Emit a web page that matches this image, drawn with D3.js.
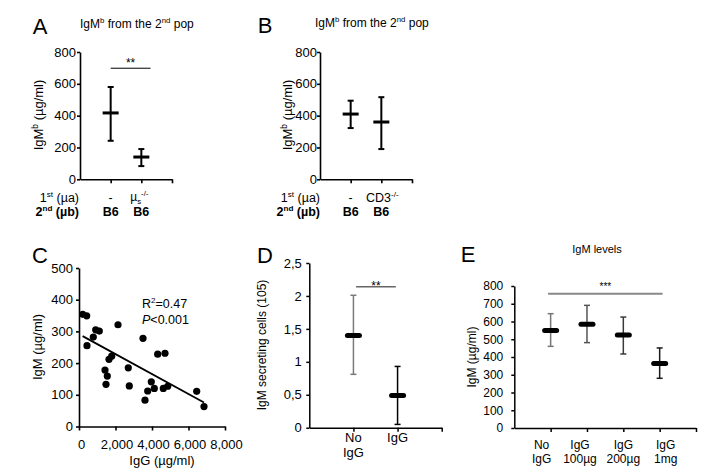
<!DOCTYPE html>
<html><head><meta charset="utf-8">
<script src="https://cdn.jsdelivr.net/npm/d3@7"></script>
<style>
body{margin:0;background:#fff}
svg text{font-family:"Liberation Sans",Arial,Helvetica,sans-serif;fill:#000}
</style>
</head><body>
<svg id="chart" width="711" height="472"></svg>
<script>
// ---------------- DATA ----------------
// Panel A
const aFirst = ["-", "µs-/-"];
const aSecond = ["B6", "B6"];
const aMean = [417, 140];
const aLow = [242, 83];
const aHigh = [580, 190];
const aSig = {from: 1, to: 2.3, y: 698, label: "**"};
// Panel B
const bFirst = ["-", "CD3-/-"];
const bSecond = ["B6", "B6"];
const bMean = [410, 360];
const bLow = [322, 190];
const bHigh = [494, 516];
const abTicks = [0, 200, 400, 600, 800];
// Panel C
const cIgG = [203, 422, 784, 438, 915, 1112, 2137, 1792, 1644, 1425, 1551, 1479, 2701, 2756, 3507, 4312, 4712, 3962, 3764, 3616, 4126, 4619, 4860, 6449, 6849];
const cIgM = [354, 349, 282, 255, 305, 301, 321, 222, 212, 178, 159, 133, 185, 128, 278, 228, 231, 141, 112, 83, 120, 120, 127, 111, 63];
const cFitIntercept = 291.4;
const cFitSlope = -0.0315;
const cFitRange = [200, 6850];
const cTicksX = [0, 2000, 4000, 6000, 8000];
const cTicksY = [0, 100, 200, 300, 400, 500];
// Panel D
const dCats = [["No", "IgG"], ["IgG"]];
const dMean = [1.40, 0.49];
const dLow = [0.81, 0.05];
const dHigh = [2.01, 0.93];
const dTicks = [0, 0.5, 1, 1.5, 2, 2.5];
const dSig = {from: 1.06, to: 1.96, y: 2.14, label: "**"};
// Panel E
const eCats = [["No", "IgG"], ["IgG", "100µg"], ["IgG", "200µg"], ["IgG", "1mg"]];
const eMean = [550, 584, 524, 364];
const eLow = [460, 481, 417, 280];
const eHigh = [644, 691, 625, 451];
const eTicks = [0, 100, 200, 300, 400, 500, 600, 700, 800];
const eSig = {from: 0.93, to: 4.08, y: 757, label: "***"};

// ---------------- DRAW ----------------
const svg = d3.select("#chart");

function rich(g, x, y, parts, fs, opts = {}) {
  const t = g.append("text").attr("x", x).attr("y", y).attr("font-size", fs)
    .attr("text-anchor", opts.anchor || "start");
  if (opts.weight) t.attr("font-weight", opts.weight);
  if (opts.transform) t.attr("transform", opts.transform);
  let cur = 0;
  parts.forEach(p => {
    let target = 0, size = fs;
    if (p.sup) { target = -fs * 0.38; size = fs * 0.65; }
    if (p.sub) { target = fs * 0.22; size = fs * 0.65; }
    const ts = t.append("tspan").text(p.t).attr("font-size", size).attr("dy", target - cur);
    if (p.italic) ts.attr("font-style", "italic");
    cur = target;
  });
  return t;
}

function styleAxis(ax, fs, width) {
  ax.selectAll("path.domain").attr("stroke", "#000").attr("stroke-width", width);
  ax.selectAll(".tick line").attr("stroke", "#000").attr("stroke-width", width);
  ax.selectAll(".tick text").attr("font-size", fs).attr("font-family", null).attr("fill", "#000");
}

function catPanel(cfg) {
  const g = svg.append("g");
  const n = cfg.mean.length;
  const xs = d3.scaleLinear().domain([0, n + 1]).range([cfg.x0, cfg.x1]);
  const ys = d3.scaleLinear().domain([0, cfg.ticks[cfg.ticks.length - 1]]).range([cfg.yb, cfg.yt]);
  const ya = g.append("g").attr("transform", `translate(${cfg.x0},0)`)
    .call(d3.axisLeft(ys).tickValues(cfg.ticks).tickSize(cfg.tick).tickSizeOuter(0)
      .tickPadding(cfg.pad).tickFormat(cfg.fmt || (d => d)));
  styleAxis(ya, cfg.fs, cfg.axW);
  const xa = g.append("g").attr("transform", `translate(0,${cfg.yb})`)
    .call(d3.axisBottom(xs).tickValues(d3.range(1, n + 2)).tickSize(4).tickSizeOuter(0).tickFormat(""));
  styleAxis(xa, cfg.fs, cfg.axW);
  for (let i = 0; i < n; i++) {
    const cx = xs(i + 1);
    const col = cfg.colors ? cfg.colors[i] : "#000";
    g.append("line").attr("x1", cx).attr("x2", cx).attr("y1", ys(cfg.low[i])).attr("y2", ys(cfg.high[i]))
      .attr("stroke", col).attr("stroke-width", cfg.errW);
    [cfg.low[i], cfg.high[i]].forEach(v => {
      g.append("line").attr("x1", cx - cfg.capW / 2).attr("x2", cx + cfg.capW / 2)
        .attr("y1", ys(v)).attr("y2", ys(v)).attr("stroke", col).attr("stroke-width", cfg.errW);
    });
    const inset = cfg.cap === "round" ? cfg.meanT / 2 : 0;
    g.append("line").attr("x1", cx - cfg.meanW / 2 + inset).attr("x2", cx + cfg.meanW / 2 - inset)
      .attr("y1", ys(cfg.mean[i])).attr("y2", ys(cfg.mean[i]))
      .attr("stroke", "#000").attr("stroke-width", cfg.meanT).attr("stroke-linecap", cfg.cap || "butt");
  }
  if (cfg.sig) {
    const s = cfg.sig;
    g.append("line").attr("x1", xs(s.from)).attr("x2", xs(s.to)).attr("y1", ys(s.y)).attr("y2", ys(s.y))
      .attr("stroke", cfg.sigColor || "#000").attr("stroke-width", cfg.sigW || 1);
    g.append("text").attr("x", (xs(s.from) + xs(s.to)) / 2).attr("y", ys(s.y) + cfg.sigDy)
      .attr("text-anchor", "middle").attr("font-size", cfg.sigFs).text(s.label);
  }
  return {g, xs, ys};
}

// Panel letters
[["A", 40, 26], ["B", 265, 25], ["C", 40, 255], ["D", 265, 255], ["E", 468, 254]].forEach(([t, x, y]) => {
  svg.append("text").attr("x", x).attr("y", y + 8).attr("text-anchor", "middle").attr("font-size", 22).text(t);
});

// ---- Panel A ----
const A = catPanel({x0: 80, x1: 172, yb: 179.3, yt: 52, ticks: abTicks, tick: 3, pad: 1, fs: 13, axW: 1.6,
  mean: aMean, low: aLow, high: aHigh, errW: 2, capW: 6, meanW: 16, meanT: 3,
  sig: aSig, sigDy: -1, sigFs: 12});
rich(svg, 80, 28, [{t: "IgM"}, {t: "b", sup: 1}, {t: " from the 2"}, {t: "nd", sup: 1}, {t: " pop"}], 12);
rich(svg, 39, 115, [{t: "IgM"}, {t: "b", sup: 1}, {t: " (µg/ml)"}], 13,
  {anchor: "middle", transform: "rotate(-90,39,115) translate(0,4)"});
rich(svg, 79, 202, [{t: "1"}, {t: "st", sup: 1}, {t: " (µa)"}], 12.5, {anchor: "end"});
rich(svg, 79, 216, [{t: "2"}, {t: "nd", sup: 1}, {t: " (µb)"}], 12.5, {anchor: "end", weight: "bold"});
aFirst.forEach((t, i) => {
  const x = A.xs(i + 1);
  if (t === "-") svg.append("text").attr("x", x).attr("y", 202).attr("text-anchor", "middle").attr("font-size", 12.5).text(t);
  else rich(svg, x - 2, 201, [{t: "µ"}, {t: "s", sub: 1}, {t: "-/-", sup: 1}], 12, {anchor: "middle"}).attr("fill", "#333");
});
aSecond.forEach((t, i) => svg.append("text").attr("x", A.xs(i + 1)).attr("y", 216).attr("text-anchor", "middle")
  .attr("font-size", 12.5).attr("font-weight", "bold").text(t));

// ---- Panel B ----
const B = catPanel({x0: 320, x1: 412, yb: 179.3, yt: 52, ticks: abTicks, tick: 3, pad: 0, fs: 13, axW: 1.6,
  mean: bMean, low: bLow, high: bHigh, errW: 2, capW: 6, meanW: 16, meanT: 3});
rich(svg, 315, 27, [{t: "IgM"}, {t: "b", sup: 1}, {t: " from the 2"}, {t: "nd", sup: 1}, {t: " pop"}], 12);
rich(svg, 288, 115, [{t: "IgM"}, {t: "b", sup: 1}, {t: " (µg/ml)"}], 13,
  {anchor: "middle", transform: "rotate(-90,288,115) translate(0,4)"});
rich(svg, 320, 202, [{t: "1"}, {t: "st", sup: 1}, {t: " (µa)"}], 12.5, {anchor: "end"});
rich(svg, 320, 216, [{t: "2"}, {t: "nd", sup: 1}, {t: " (µb)"}], 12.5, {anchor: "end", weight: "bold"});
bFirst.forEach((t, i) => {
  const x = B.xs(i + 1);
  if (t === "-") svg.append("text").attr("x", x).attr("y", 202).attr("text-anchor", "middle").attr("font-size", 12.5).text(t);
  else rich(svg, x + 1, 202, [{t: "CD3"}, {t: "-/-", sup: 1}], 12.5, {anchor: "middle"});
});
bSecond.forEach((t, i) => svg.append("text").attr("x", B.xs(i + 1)).attr("y", 216).attr("text-anchor", "middle")
  .attr("font-size", 12.5).attr("font-weight", "bold").text(t));

// ---- Panel C ----
{
  const g = svg.append("g");
  const xs = d3.scaleLinear().domain([0, 8000]).range([79, 225]);
  const ys = d3.scaleLinear().domain([0, 500]).range([426.5, 268]);
  const ya = g.append("g").attr("transform", "translate(79,0)")
    .call(d3.axisLeft(ys).tickValues(cTicksY).tickSize(3).tickSizeOuter(0).tickPadding(3));
  styleAxis(ya, 13, 1.6);
  const xa = g.append("g").attr("transform", "translate(0,426.5)")
    .call(d3.axisBottom(xs).tickValues(cTicksX).tickSize(4).tickSizeOuter(0).tickPadding(9).tickFormat(d3.format(",")));
  styleAxis(xa, 13, 1.6);
  xa.selectAll(".tick text").attr("dx", (d, i) => i === 0 ? 2 : 1);
  g.append("line").attr("x1", xs(cFitRange[0])).attr("x2", xs(cFitRange[1]))
    .attr("y1", ys(cFitIntercept + cFitSlope * cFitRange[0])).attr("y2", ys(cFitIntercept + cFitSlope * cFitRange[1]))
    .attr("stroke", "#000").attr("stroke-width", 1.8);
  g.selectAll("circle").data(cIgG).join("circle")
    .attr("cx", d => xs(d)).attr("cy", (d, i) => ys(cIgM[i])).attr("r", 3.6).attr("fill", "#000");
  rich(svg, 142, 307.5, [{t: "R"}, {t: "2", sup: 1}, {t: "=0.47"}], 12.5);
  rich(svg, 142, 324, [{t: "P", italic: 1}, {t: "<0.001"}], 12.5);
  svg.append("text").attr("x", 38).attr("y", 347).attr("text-anchor", "middle").attr("font-size", 13)
    .attr("transform", "rotate(-90,38,347) translate(0,4)").text("IgM (µg/ml)");
  svg.append("text").attr("x", 162).attr("y", 464.5).attr("text-anchor", "middle").attr("font-size", 13).text("IgG (µg/ml)");
}

// ---- Panel D ----
const D = catPanel({x0: 309.3, x1: 441.7, yb: 427.7, yt: 263, ticks: dTicks, tick: 3, pad: 4.5, fs: 13, axW: 1.5,
  fmt: d => String(d).replace(".", ","),
  mean: dMean, low: dLow, high: dHigh, errW: 1.5, capW: 6, meanW: 17, meanT: 5, cap: "round",
  colors: ["#7a7a7a", "#000"], sig: dSig, sigColor: "#666", sigW: 1.5, sigDy: 3, sigFs: 12});
dCats.forEach((lines, i) => lines.forEach((t, j) => {
  svg.append("text").attr("x", D.xs(i + 1)).attr("y", 441.5 + j * 15).attr("text-anchor", "middle").attr("font-size", 13).text(t);
}));
svg.append("text").attr("x", 262).attr("y", 345).attr("text-anchor", "middle").attr("font-size", 12)
  .attr("transform", "rotate(-90,262,345) translate(0,4)").text("IgM secreting cells (105)");

// ---- Panel E ----
const eLabelDx = [-9, -7, 0, 6];
const E = catPanel({x0: 514.3, x1: 696, yb: 428, yt: 286, ticks: eTicks, tick: 3, pad: 8, fs: 12, axW: 1.5,
  mean: eMean, low: eLow, high: eHigh, errW: 1.5, capW: 6, meanW: 17, meanT: 5, cap: "round",
  colors: ["#777", "#555", "#3a3a3a", "#1a1a1a"], sig: eSig, sigColor: "#888", sigW: 2, sigDy: -4, sigFs: 10});
eCats.forEach((lines, i) => lines.forEach((t, j) => {
  svg.append("text").attr("x", E.xs(i + 1) + eLabelDx[i]).attr("y", 448.5 + j * 14).attr("text-anchor", "middle")
    .attr("font-size", 12).text(t);
}));
svg.append("text").attr("x", 597).attr("y", 253).attr("text-anchor", "middle").attr("font-size", 11).text("IgM levels");
svg.append("text").attr("x", 472).attr("y", 357).attr("text-anchor", "middle").attr("font-size", 12)
  .attr("transform", "rotate(-90,472,357) translate(0,4)").text("IgM (µg/ml)");
</script>
</body></html>
